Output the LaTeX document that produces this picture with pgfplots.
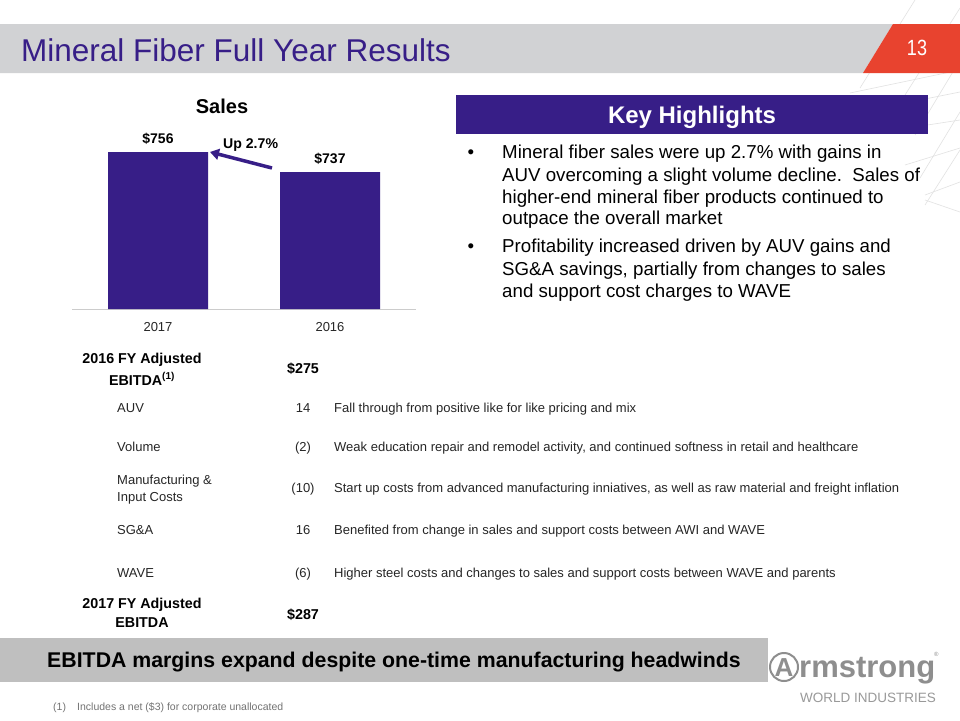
\documentclass[border=0pt]{standalone}
\usepackage{pgfplots}
\pgfplotsset{compat=1.18}
\usepackage{pgfplotstable}
\usepackage{fontspec}
\setmainfont{Liberation Sans}
\usetikzlibrary{arrows.meta}
\definecolor{awipurple}{HTML}{371E87}
\definecolor{bandgray}{HTML}{D1D2D4}
\definecolor{awired}{HTML}{E8432F}
\definecolor{botgray}{HTML}{BFBFBF}
\definecolor{logogray}{HTML}{8E8E8E}
\definecolor{linegray}{HTML}{E2E2E2}
\definecolor{txtgray}{HTML}{262626}
\newcommand\fs[1]{\fontsize{#1}{#1}\selectfont}
\pgfplotstableread{
x val
0 756
1 737
}\salesdata
\begin{document}
\begin{tikzpicture}[x=1pt,y=-1pt]
\path[use as bounding box, fill=white] (0,0) rectangle (960,720);
% decorative lattice
\begin{scope}[draw=linegray, line width=0.6pt]
\draw (915,0) -- (860,88);
\draw (960,8) -- (905,95);
\draw (850,93) -- (960,70);
\draw (870,110) -- (960,92);
\draw (960,60) -- (915,135);
\draw (895,130) -- (960,120);
\draw (960,112) -- (920,178);
\draw (905,165) -- (960,148);
\draw (960,150) -- (925,205);
\draw (925,195) -- (960,182);
\draw (925,200) -- (960,212);
\end{scope}
% title band
\fill[bandgray] (0,24) -- (893,24) -- (863,73) -- (0,73) -- cycle;
\fill[awired] (893,24) -- (960,24) -- (960,73) -- (863,73) -- cycle;
\node[anchor=base west, text=awipurple, inner sep=0] at (21,61) {\fs{31.5}Mineral Fiber Full Year Results};
\node[anchor=base, text=white, inner sep=0] at (917,55) {\fs{22}\scalebox{0.82}[1]{13}};
% sales chart
\node[anchor=base, inner sep=0] at (222,113) {\fs{20}\bfseries Sales};
\begin{axis}[at={(72pt,-309pt)}, anchor=south west, scale only axis,
  width=344pt, height=187.4pt, xmin=-0.5, xmax=1.5, ymin=607, ymax=785,
  axis x line*=bottom, axis y line=none,
  x axis line style={draw=black!20, line width=0.8pt, -},
  xtick={0,1}, xticklabels={2017,2016}, major tick length=0pt,
  xticklabel style={font=\fs{13}, text=txtgray, anchor=base, yshift=-22pt, inner sep=0pt},
  ybar, bar width=100pt,
  /pgf/number format/assume math mode=true,
  nodes near coords={\$\pgfmathprintnumber{\pgfplotspointmeta}},
  nodes near coords style={font=\bfseries\fs{14}, anchor=base, yshift=9pt, inner sep=0pt, text=black},
  ]
\addplot[fill=awipurple, draw=none] table[x=x,y=val]{\salesdata};
\end{axis}
\node[anchor=base west, inner sep=0] at (223,148) {\fs{14.1}\bfseries Up 2.7\%};
\draw[awipurple, line width=3.5pt, -{Triangle[length=9pt,width=11pt]}] (272,168) -- (210,152);
% key highlights
\fill[awipurple] (456,95) rectangle (928,134);
\node[anchor=base, text=white, inner sep=0] at (692,123) {\fs{24}\bfseries Key Highlights};
\begin{scope}[every node/.style={anchor=base west, inner sep=0, font=\fs{18.7}}]
\node[anchor=base] at (471,158) {\textbullet};
\node at (502,158) {Mineral fiber sales were up 2.7\% with gains in};
\node at (502,181) {AUV overcoming a slight volume decline.\ \ Sales of};
\node at (502,203) {higher-end mineral fiber products continued to};
\node at (502,224) {outpace the overall market};
\node[anchor=base] at (471,252) {\textbullet};
\node at (502,252) {Profitability increased driven by AUV gains and};
\node at (502,275) {SG\&A savings, partially from changes to sales};
\node at (502,297) {and support cost charges to WAVE};
\end{scope}
% bridge table
\begin{scope}[every node/.style={inner sep=0, font=\fs{14.3}\bfseries}]
\node[anchor=base] at (142,363) {2016 FY Adjusted};
\node[anchor=base] at (142,385) {EBITDA\textsuperscript{(1)}};
\node[anchor=base] at (303,373) {\$275};
\node[anchor=base] at (142,608) {2017 FY Adjusted};
\node[anchor=base] at (142,627) {EBITDA};
\node[anchor=base] at (303,619) {\$287};
\end{scope}
\begin{scope}[every node/.style={inner sep=0, font=\fs{13}, text=txtgray}]
\node[anchor=base west] at (117,412) {AUV};
\node[anchor=base] at (303,412) {14};
\node[anchor=base west] at (334,412) {Fall through from positive like for like pricing and mix};
\node[anchor=base west] at (117,451) {Volume};
\node[anchor=base] at (303,451) {(2)};
\node[anchor=base west] at (334,451) {Weak education repair and remodel activity, and continued softness in retail and healthcare};
\node[anchor=base west] at (117,484) {Manufacturing \&};
\node[anchor=base west] at (117,501) {Input Costs};
\node[anchor=base] at (303,492) {(10)};
\node[anchor=base west] at (334,492) {Start up costs from advanced manufacturing inniatives, as well as raw material and freight inflation};
\node[anchor=base west] at (117,534) {SG\&A};
\node[anchor=base] at (303,534) {16};
\node[anchor=base west] at (334,534) {Benefited from change in sales and support costs between AWI and WAVE};
\node[anchor=base west] at (117,577) {WAVE};
\node[anchor=base] at (303,577) {(6)};
\node[anchor=base west] at (334,577) {Higher steel costs and changes to sales and support costs between WAVE and parents};
\end{scope}
% bottom band
\fill[botgray] (0,638) rectangle (768,682);
\node[anchor=base, inner sep=0] at (394,667) {\fs{21.3}\bfseries EBITDA margins expand despite one-time manufacturing headwinds};
% footnote
\node[anchor=base west, inner sep=0, text=black!55] at (53,710) {\fs{10.5}(1)};
\node[anchor=base west, inner sep=0, text=black!55] at (77,710) {\fs{10.5}Includes a net (\$3) for corporate unallocated};
% logo
\draw[logogray, line width=2pt] (784,667) circle (14);
\node[anchor=base, inner sep=0, text=logogray] at (784,676) {\fs{26}\bfseries A};
\node[anchor=base west, inner sep=0, text=logogray] at (799,677) {\fs{31}\bfseries rmstrong};
\node[anchor=base west, inner sep=0, text=logogray] at (934,656) {\fs{6}\textregistered};
\node[anchor=base west, inner sep=0, text=logogray!90] at (800,702) {\fs{13.5}WORLD INDUSTRIES};
\end{tikzpicture}
\end{document}
